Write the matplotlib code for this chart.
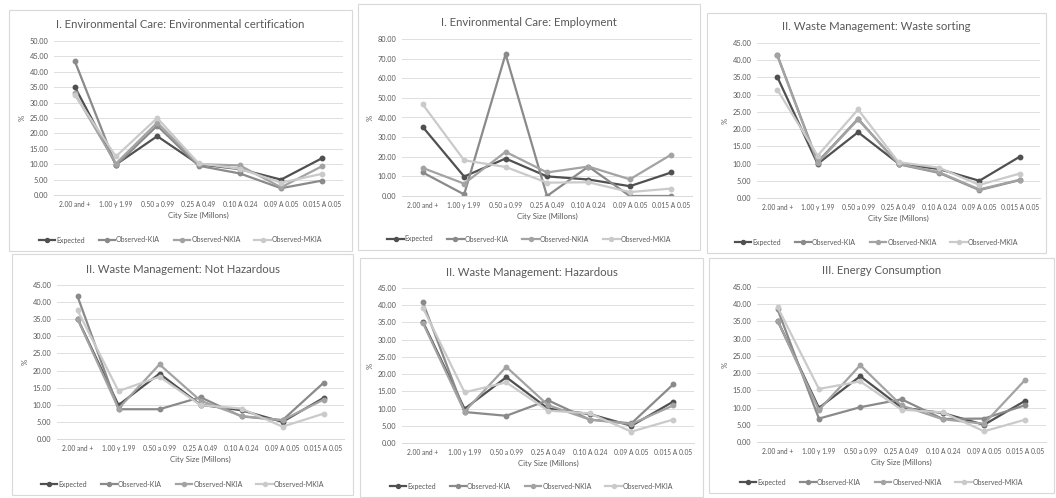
import matplotlib
matplotlib.use("Agg")
import matplotlib.pyplot as plt
from matplotlib.patches import Rectangle

plt.rcParams["font.family"] = ["Lato", "DejaVu Sans"]

categories = ["2.00 and +", "1.00 y 1.99", "0.50 a 0.99", "0.25 A 0.49",
              "0.10 A 0.24", "0.09 A 0.05", "0.015 A 0.05"]
series_names = ["Expected", "Observed-KIA", "Observed-NKIA", "Observed-MKIA"]

expected = [35.2, 9.9, 19.1, 10.0, 8.4, 5.0, 12.0]

# I. Environmental certification
cert_kia = [43.6, 9.6, 22.5, 9.5, 7.0, 2.2, 4.7]
cert_nkia = [33.0, 10.2, 23.5, 10.0, 9.6, 2.5, 9.4]
cert_mkia = [32.5, 12.5, 25.0, 10.3, 8.5, 4.0, 6.9]

# I. Employment
empl_kia = [12.0, 0.8, 72.3, 0.0, 15.0, 0.0, 0.0]
empl_nkia = [14.3, 6.3, 22.5, 12.0, 15.0, 8.5, 21.1]
empl_mkia = [46.7, 18.2, 14.8, 6.8, 7.0, 2.0, 3.8]

# II. Waste sorting
sort_kia = [41.6, 10.5, 23.0, 9.8, 7.3, 2.3, 5.2]
sort_nkia = [41.4, 10.2, 22.8, 9.9, 7.5, 2.5, 5.3]
sort_mkia = [31.5, 12.3, 25.7, 10.4, 8.8, 3.8, 7.1]

# II. Not hazardous
nhaz_kia = [41.7, 8.7, 8.7, 12.2, 6.6, 5.5, 16.4]
nhaz_nkia = [35.1, 8.9, 21.8, 11.2, 6.7, 5.5, 11.5]
nhaz_mkia = [37.6, 14.0, 18.2, 9.9, 8.9, 3.6, 7.4]

# II. Hazardous
haz_kia = [40.8, 9.0, 7.9, 12.4, 6.8, 5.7, 17.0]
haz_nkia = [34.9, 9.1, 22.1, 11.0, 6.8, 5.5, 10.9]
haz_mkia = [39.3, 14.7, 17.6, 9.4, 8.6, 3.3, 6.8]

# III. Energy consumption
ener_kia = [38.5, 6.8, 10.1, 12.4, 6.7, 6.8, 10.7]
ener_nkia = [35.2, 9.3, 22.3, 10.6, 6.6, 5.3, 18.1]
ener_mkia = [39.1, 15.4, 17.6, 9.4, 8.6, 3.1, 6.5]

titles = ["I. Environmental Care: Environmental certification",
          "I. Environmental Care: Employment",
          "II. Waste Management: Waste sorting",
          "II. Waste Management: Not Hazardous",
          "II. Waste Management: Hazardous",
          "III. Energy Consumption"]
panel_data = [
    [expected, cert_kia, cert_nkia, cert_mkia],
    [expected, empl_kia, empl_nkia, empl_mkia],
    [expected, sort_kia, sort_nkia, sort_mkia],
    [expected, nhaz_kia, nhaz_nkia, nhaz_mkia],
    [expected, haz_kia, haz_nkia, haz_mkia],
    [expected, ener_kia, ener_nkia, ener_mkia],
]
y_max = [50, 80, 45, 45, 45, 45]
y_step = [5, 10, 5, 5, 5, 5]

colors = ["#505050", "#8a8a8a", "#a3a3a3", "#cacaca"]
text_c = "#595959"

W, H = 1056, 498
fig = plt.figure(figsize=(W / 100, H / 100), dpi=100)

# pixel boxes: panel border (x0, y0, x1, y1) and plot area (x0, y0, x1, y1)
panels = [
    ((9, 10, 352, 251), (54, 41, 343, 195)),
    ((358, 4, 700, 250), (402, 39, 692, 196)),
    ((707, 13, 1046, 253), (757, 43, 1040, 198)),
    ((12, 254, 353, 495), (57, 285, 344, 439)),
    ((360, 258, 703, 497), (402, 288, 694, 443)),
    ((709, 258, 1054, 493), (757, 287, 1046, 442)),
]


def fx(px):
    return px / W


def fy(py):
    return 1 - py / H


for i, (border, plot) in enumerate(panels):
    bx0, by0, bx1, by1 = border
    fig.patches.append(Rectangle((fx(bx0), fy(by1)), fx(bx1 - bx0), (by1 - by0) / H,
                                 transform=fig.transFigure, fill=False,
                                 edgecolor="#d9d9d9", linewidth=0.8))
    px0, py0, px1, py1 = plot
    ax = fig.add_axes([fx(px0), fy(py1), fx(px1 - px0), (py1 - py0) / H])
    xs = range(len(categories))
    for name, vals, c in zip(series_names, panel_data[i], colors):
        ax.plot(xs, vals, color=c, linewidth=1.6, marker="o", markersize=3.2,
                label=name)
    ax.set_xlim(-0.5, len(categories) - 0.5)
    ax.set_ylim(0, y_max[i])
    ticks = list(range(0, y_max[i] + 1, y_step[i]))
    ax.set_yticks(ticks)
    ax.set_yticklabels([f"{t:.2f}" for t in ticks])
    ax.set_xticks(list(xs))
    ax.set_xticklabels(categories)
    ax.tick_params(axis="both", length=0, colors=text_c, pad=4)
    ax.tick_params(axis="y", labelsize=5.3)
    ax.tick_params(axis="x", labelsize=4.8)
    ax.grid(axis="y", color="#dedede", linewidth=0.7)
    ax.set_axisbelow(True)
    for s in ["top", "right", "left"]:
        ax.spines[s].set_visible(False)
    ax.spines["bottom"].set_color("#d9d9d9")
    ax.spines["bottom"].set_linewidth(0.7)
    ax.set_xlabel("City Size (Millons)", fontsize=5.6, color=text_c, labelpad=3)
    ax.set_ylabel("%", fontsize=5.6, color=text_c, labelpad=3)
    fig.text(fx((bx0 + bx1) / 2), fy(py0 - 16), titles[i], ha="center",
             va="center", fontsize=8.2, color=text_c)
    ax.legend(loc="center", bbox_to_anchor=(fx((bx0 + bx1) / 2), fy(by1 - 11)),
              bbox_transform=fig.transFigure, ncol=4, frameon=False,
              fontsize=5.0, labelcolor=text_c, handlelength=2.4,
              handletextpad=0.1, columnspacing=2.0, markerscale=0.9)

fig.savefig("out.png", dpi=100, facecolor="white")
